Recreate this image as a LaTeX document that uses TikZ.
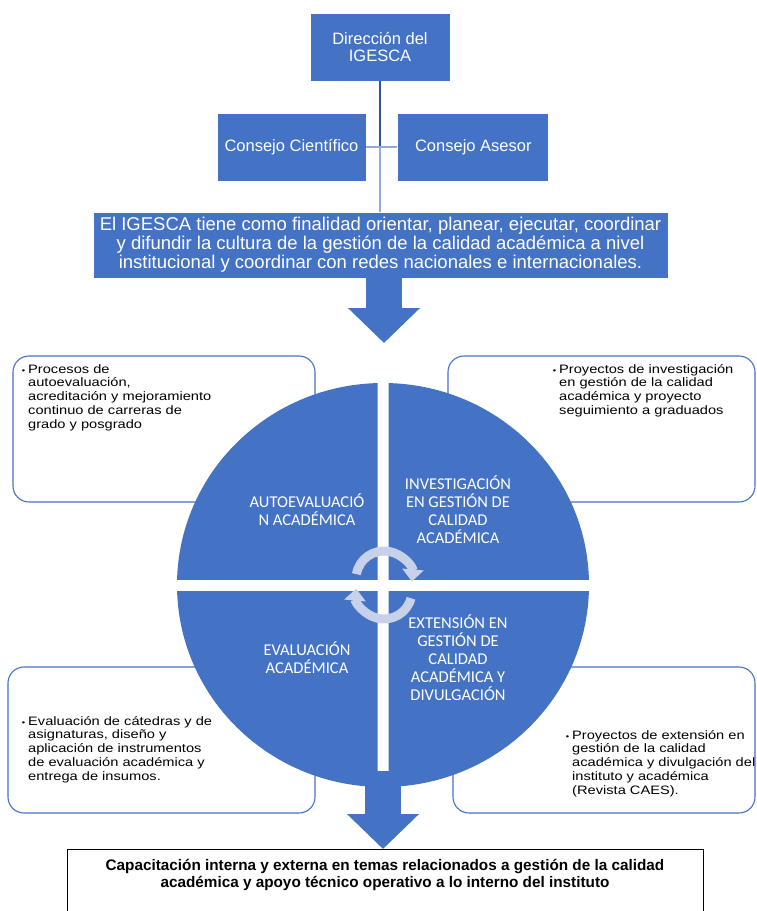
\documentclass[tikz,border=0pt]{standalone}
\usepackage{fontspec}
\setmainfont{Liberation Sans}
\newfontfamily\quadfont{Carlito}
\newfontfamily\itemfont[FakeStretch=1.2]{Liberation Sans}
\usetikzlibrary{positioning,arrows.meta}
\definecolor{igblue}{HTML}{4472C4}
\definecolor{lineblue}{HTML}{2F5597}
\definecolor{lightline}{HTML}{8FAADC}
\definecolor{cycfill}{HTML}{C8D1EA}
\newcommand{\bul}{{\fontsize{8}{8}\selectfont\textbullet}\hspace{3pt}}

\begin{document}
\begin{tikzpicture}[x=1pt, y=-1pt,
    orgbox/.style={rectangle, fill=igblue, draw=white, line width=0.8pt, text=white, align=center, font=\fontsize{16.5}{17}\selectfont},
    itembox/.style={rectangle, draw=igblue, line width=1.1pt, rounded corners=16pt},
    itemtext/.style={anchor=north west, inner sep=0pt, align=left, font=\itemfont\fontsize{12.2}{13.8}\selectfont},
    quadlabel/.style={text=white, align=center, font=\quadfont\fontsize{16.5}{18}\selectfont},
    bigarrow/.style={igblue, line width=36pt, -{Triangle[width=70pt, length=35pt]}},
    cycarrow/.style={cycfill, line width=9pt, -{Triangle[width=21pt, length=12pt]}}
]
    \useasboundingbox (0,0) rectangle (757,911);

    \node [orgbox, minimum width=140pt, minimum height=68pt] (dir) at (380,47) {Dirección del\\IGESCA};
    \node [orgbox, minimum width=149pt, minimum height=68pt] (cient) at (291.5,147) {Consejo Científico};
    \node [orgbox, minimum width=151pt, minimum height=68pt, right=31pt of cient] (asesor) {Consejo Asesor};
    \node [orgbox, minimum width=575pt, minimum height=66pt, inner xsep=0pt, font=\fontsize{18.5}{19}\selectfont] (mision) at (380.5,245) {El IGESCA tiene como finalidad orientar, planear, ejecutar, coordinar\\y difundir la cultura de la gestión de la calidad académica a nivel\\institucional y coordinar con redes nacionales e internacionales.};

    \coordinate (cruce) at (dir.south |- cient.east);
    \draw [lineblue, line width=1.5pt] (dir) -- (cruce);
    \draw [lightline, line width=1.5pt] (cruce) -- (cruce |- mision.north);
    \draw [lightline, line width=1.5pt] (cient) -- (asesor);

    % cuadros de texto
    \node [itembox, minimum width=302pt, minimum height=146pt] (autobox) at (164,429) {};
    \node [itembox, minimum width=307pt, minimum height=146pt] (invbox) at (601.5,429) {};
    \node [itembox, minimum width=307pt, minimum height=146pt] (evalbox) at (161.5,740) {};
    \node [itembox, minimum width=302pt, minimum height=146pt] (extbox) at (604,740) {};

    \node [itemtext] (autotext) at (28,364) {\llap{\bul}Procesos de\\autoevaluación,\\acreditación y mejoramiento\\continuo de carreras de\\grado y posgrado};
    \node [itemtext] (invtext) at (559,364) {\llap{\bul}Proyectos de investigación\\en gestión de la calidad\\académica y proyecto\\seguimiento a graduados};
    \node [itemtext] (evaltext) at (28,716) {\llap{\bul}Evaluación de cátedras y de\\asignaturas, diseño y\\aplicación de instrumentos\\de evaluación académica y\\entrega de insumos.};
    \node [itemtext] (exttext) at (572,730) {\llap{\bul}Proyectos de extensión en\\gestión de la calidad\\académica y divulgación del\\instituto y académica\\(Revista CAES).};

    \node [draw=black, line width=0.8pt, anchor=north, inner xsep=0pt, inner ysep=10pt, font=\bfseries\fontsize{15.3}{16.5}\selectfont] (capac) at (385,849) {\begin{minipage}[t][70pt][t]{636pt}\centering Capacitación interna y externa en temas relacionados a gestión de la calidad\\académica y apoyo técnico operativo a lo interno del instituto\end{minipage}};

    % flechas
    \coordinate (ciclotop) at (384,343);
    \coordinate (cicloinf) at (383,771);
    \draw [bigarrow] ([xshift=3.5pt]mision.south) -- (ciclotop);
    \draw [bigarrow] (cicloinf) -- (cicloinf |- capac.north);

    % ciclo
    \foreach \sx/\sy in {-1/-1, 1/-1, -1/1, 1/1} {
        \begin{scope}
            \clip ({383+(\sx)*5.5},{585+(\sy)*6}) rectangle ({383+(\sx)*230},{585+(\sy)*230});
            \fill [igblue] (383,585) ellipse [x radius=206, y radius=202];
        \end{scope}
    }

    \node [quadlabel] (autoeval) at (307,510) {AUTOEVALUACIÓ\\N ACADÉMICA};
    \node [quadlabel] (investig) at (458,509.5) {INVESTIGACIÓN\\EN GESTIÓN DE\\CALIDAD\\ACADÉMICA};
    \node [quadlabel] (evaluac) at (307,658) {EVALUACIÓN\\ACADÉMICA};
    \node [quadlabel] (extens) at (458,657.5) {EXTENSIÓN EN\\GESTIÓN DE\\CALIDAD\\ACADÉMICA Y\\DIVULGACIÓN};

    \draw [cycarrow] (384,579) ++(190:28) arc [start angle=190, end angle=365, radius=28];
    \draw [cycarrow] (384,591) ++(15:28) arc [start angle=15, end angle=185, radius=28];
\end{tikzpicture}
\end{document}
